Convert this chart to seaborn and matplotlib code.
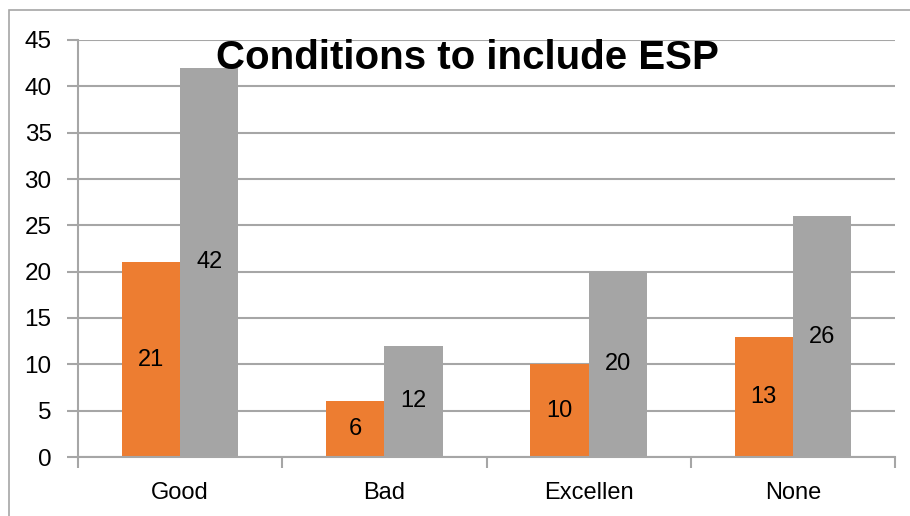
import matplotlib
matplotlib.use("Agg")
import matplotlib.pyplot as plt
from matplotlib import font_manager
import matplotlib.patheffects as pe
import seaborn as sns
import pandas as pd

categories = ["Good", "Bad", "Excellen", "None"]
series_names = ["Series A", "Series B"]
series_a = [21, 6, 10, 13]
series_b = [42, 12, 20, 26]
y_ticks = [0, 5, 10, 15, 20, 25, 30, 35, 40, 45]
title = "Conditions to include ESP"

df = pd.DataFrame({
    "category": categories * 2,
    "series": [series_names[0]] * len(categories) + [series_names[1]] * len(categories),
    "value": series_a + series_b,
})


def _weight(f):
    if isinstance(f.weight, int):
        return f.weight
    return 700 if "bold" in str(f.weight).lower() else 400


narrow_bold = None
narrow_reg = None
for f in font_manager.fontManager.ttflist:
    if f.name == "Liberation Sans Narrow" and f.style == "normal":
        if _weight(f) >= 600 and narrow_bold is None:
            narrow_bold = f.fname
        if _weight(f) < 600 and narrow_reg is None:
            narrow_reg = f.fname

sns.set_theme(style="white")
plt.rcParams["font.family"] = ["Liberation Sans", "DejaVu Sans"]
plt.rcParams["text.color"] = "black"
plt.rcParams["xtick.color"] = "black"
plt.rcParams["ytick.color"] = "black"

fig = plt.figure(figsize=(9.1, 5.16), dpi=100)
ax = fig.add_axes([78 / 910, 1 - 457 / 516, (895 - 78) / 910, (457 - 40) / 516])

grid_c = "#a6a6a6"
sns.barplot(data=df, x="category", y="value", hue="series", order=categories,
            hue_order=series_names, palette=["#ED7D31", "#A5A5A5"], saturation=1,
            width=0.57, gap=0, edgecolor="none", linewidth=0, ax=ax, legend=False,
            zorder=3)

for c in ax.containers:
    ax.bar_label(c, label_type="center", fontsize=17, color="#000000")

ax.set_ylim(0, 45)
ax.set_xlim(-0.5, len(categories) - 0.5)
ax.set_yticks(y_ticks)
ax.set_yticklabels([str(t) for t in y_ticks])
ax.tick_params(axis="y", labelsize=17.5, length=8, width=1.5, color=grid_c, pad=11,
               left=True, labelcolor="black")
ax.tick_params(axis="x", which="major", labelsize=17, length=0, pad=18, labelcolor="black")
ax.set_xticks([i + 0.5 for i in range(-1, len(categories))], minor=True)
ax.tick_params(axis="x", which="minor", length=8, width=1.5, color=grid_c, bottom=True, direction="out")
ax.set_xlabel("")
ax.set_ylabel("")
ax.yaxis.grid(True, color=grid_c, linewidth=1.5, zorder=0)
ax.set_axisbelow(True)
for s in ["top", "right"]:
    ax.spines[s].set_visible(False)
for s in ["left", "bottom"]:
    ax.spines[s].set_color(grid_c)
    ax.spines[s].set_linewidth(1.5)
    ax.spines[s].set_zorder(4)

tx, ty = 467 / 910, 1 - 58 / 516
if narrow_bold:
    fp = font_manager.FontProperties(fname=narrow_bold, size=33)
    fig.text(tx, ty, title, ha="center", va="center", fontproperties=fp, zorder=10, color="black")
elif narrow_reg:
    fp = font_manager.FontProperties(fname=narrow_reg, size=35)
    fig.text(tx, ty, title, ha="center", va="center", fontproperties=fp, zorder=10, color="black",
             path_effects=[pe.withStroke(linewidth=2.4, foreground="black")])
else:
    fig.text(tx, ty, title, ha="center", va="center",
             fontsize=29, fontweight="bold", family=["Liberation Sans", "DejaVu Sans"],
             zorder=10, color="black")

border = plt.Rectangle((9 / 910, -0.1), 1.2, 1 - 10 / 516 + 0.1, transform=fig.transFigure,
                       fill=False, edgecolor="#a6a6a6", linewidth=1.2)
fig.patches.append(border)

fig.savefig("out.png", dpi=100)
